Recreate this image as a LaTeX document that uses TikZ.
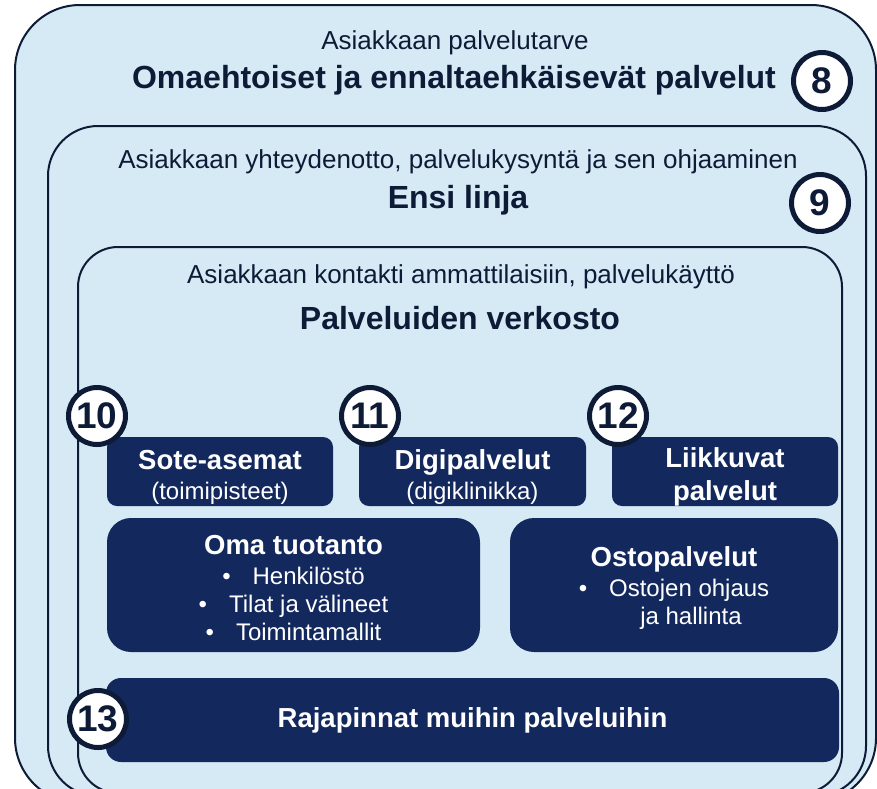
\documentclass[tikz,border=0pt]{standalone}
\usepackage{fontspec}
\setmainfont{Liberation Sans}
\usepackage{tikz}
\usetikzlibrary{
    shapes,
    positioning,
}
\definecolor{navy}{HTML}{13295E}
\definecolor{paleblue}{HTML}{D6EAF6}
\definecolor{inkdark}{HTML}{0E1B36}

\begin{document}
\begin{tikzpicture}[x=1pt,y=-1pt]

    \tikzstyle{commonText}=[text=inkdark, inner sep=0pt, align=center]
    \tikzstyle{caption}=[commonText, font=\fontsize{26}{30}\selectfont]
    \tikzstyle{heading}=[commonText, font=\bfseries\fontsize{32}{36}\selectfont]
    \tikzstyle{layer}=[rectangle, draw=inkdark, fill=paleblue, line width=2pt, anchor=north west, outer sep=0pt]
    \tikzstyle{service}=[rectangle, rounded corners=10pt, fill=navy, text=white, align=center, inner sep=0pt, outer sep=0pt, anchor=north west, font=\fontsize{24}{30}\selectfont]
    \tikzstyle{bigService}=[service, rounded corners=24pt, font=\fontsize{24}{28}\selectfont]
    \tikzstyle{number}=[circle, draw=inkdark, fill=white, line width=5pt, minimum size=57pt, inner sep=0pt, text=inkdark, font=\bfseries\fontsize{37}{37}\selectfont]

    \def\boxtitle#1{{\bfseries\fontsize{27.5}{30}\selectfont #1}}
    \def\bull#1{\textbullet\hspace{22pt}#1}
    \def\lift#1{\rule{0pt}{#1}}

    \useasboundingbox (0,0) rectangle (877,788);
    \clip (0,0) rectangle (877,788);

    \begin{scope}
        % Spacing the service boxes
        \def \rowtop {437}
        \def \rowheight {69}
        \def \boxwidth {226}

        % Layers
        \node at (15,5)   [layer, rounded corners=65pt, minimum width=861pt, minimum height=798pt] (L8)  {};
        \node at (48,126) [layer, rounded corners=50pt, minimum width=818pt, minimum height=670pt] (L9)  {};
        \node at (78,247) [layer, rounded corners=40pt, minimum width=764pt, minimum height=546pt] (L10) {};

        % Captions and headings
        \node at (455,43)  [caption] (PTcap) {Asiakkaan palvelutarve};
        \node at (454,80)  [heading] (OEP)   {Omaehtoiset ja ennaltaehkäisevät palvelut};
        \node at (458,162) [caption] (YPcap) {Asiakkaan yhteydenotto, palvelukysyntä ja sen ohjaaminen};
        \node at (458,200) [heading] (EL)    {Ensi linja};
        \node at (461,277) [caption] (KAcap) {Asiakkaan kontakti ammattilaisiin, palvelukäyttö};
        \node at (460,318) [heading] (PVV)   {Palveluiden verkosto};

        % Services
        \node at (107,\rowtop) [service, minimum width=\boxwidth pt, minimum height=\rowheight pt] (SA)
            {\lift{30pt}\boxtitle{Sote-asemat}\\(toimipisteet)};
        \node at (359,\rowtop) [service, minimum width=227pt, minimum height=\rowheight pt] (DP)
            {\lift{30pt}\boxtitle{Digipalvelut}\\(digiklinikka)};
        \node at (612,\rowtop) [service, minimum width=\boxwidth pt, minimum height=\rowheight pt, font=\bfseries\fontsize{27.5}{33}\selectfont] (LP)
            {\lift{30pt}Liikkuvat\\palvelut};
        \node at (107,518) [bigService, minimum width=373pt, minimum height=134pt] (OT)
            {\lift{26pt}\boxtitle{Oma tuotanto}\\[2pt]\bull{Henkilöstö}\\\bull{Tilat ja välineet}\\\bull{Toimintamallit}};
        \node at (510,518) [bigService, minimum width=328pt, minimum height=134pt] (OP)
            {\lift{26pt}\boxtitle{Ostopalvelut}\\[2pt]\bull{Ostojen ohjaus}\\\hspace{34pt}ja hallinta};
        \node at (106,678) [service, rounded corners=15pt, minimum width=733pt, minimum height=84pt] (RP)
            {\boxtitle{Rajapinnat muihin palveluihin}};

        % Numbers
        \node at (822,81)  [number] (n8)  {8};
        \node at (820,203) [number] (n9)  {9};
        \node at (97,416)  [number] (n10) {10};
        \node at (370,416) [number] (n11) {11};
        \node at (618,416) [number] (n12) {12};
        \node at (98,719)  [number] (n13) {13};
    \end{scope}

\end{tikzpicture}
\end{document}
